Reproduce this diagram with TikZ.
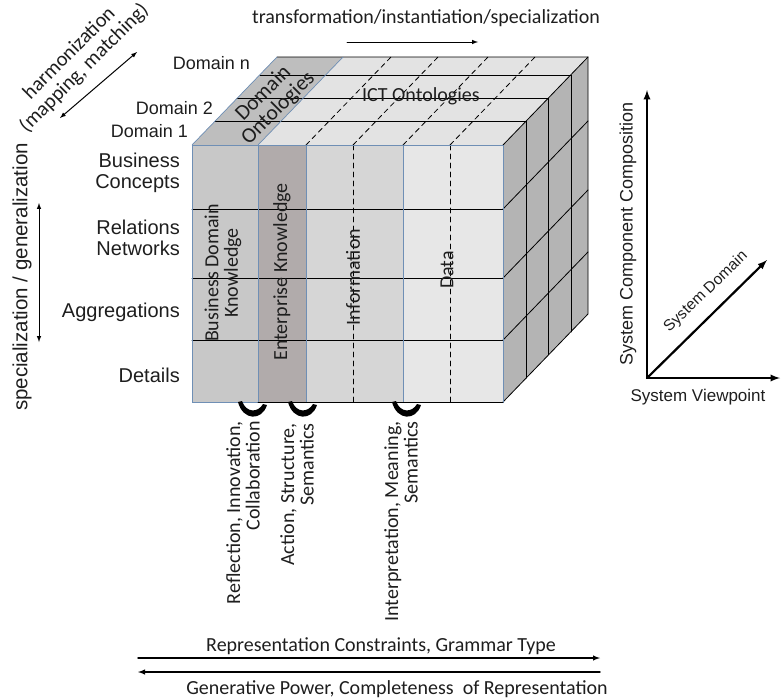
\documentclass[tikz,border=0pt]{standalone}
\usepackage{fontspec}
\setmainfont{Carlito}
\newfontfamily\arialfont{Liberation Sans}
\definecolor{topgray}{HTML}{E3E3E3}
\definecolor{domgray}{HTML}{BEBEBE}
\definecolor{sidegray}{HTML}{B4B4B4}
\definecolor{colA}{HTML}{C8C8C8}
\definecolor{colB}{HTML}{B1ABAB}
\definecolor{colC}{HTML}{D6D6D6}
\definecolor{colD}{HTML}{E7E7E7}
\definecolor{edgeblue}{HTML}{6F8FB5}
\definecolor{ink}{HTML}{1E1E1E}

\begin{document}
\begin{tikzpicture}[x=1pt,y=-1pt,line cap=round]
	\tikzstyle{lbl}=[font=\fontsize{20}{19.5}\selectfont,text=ink,inner sep=0pt];
	\tikzstyle{albl}=[font=\arialfont\fontsize{20}{21}\selectfont,text=ink,inner sep=0pt];
	\tikzstyle{edge}=[draw=edgeblue,line width=0.7pt];
	\tikzstyle{gridline}=[draw=black,line width=0.8pt];
	\tikzstyle{dashline}=[draw=black,line width=0.8pt,dashed,dash pattern=on 5pt off 4pt];
	\tikzstyle{arr}=[draw=black,line width=1pt,-latex];
	\tikzstyle{axis}=[draw=black,line width=2.2pt,-latex];
	\tikzstyle{hook}=[fill=black];
	\useasboundingbox (0,0) rectangle (781,699);

	% cube faces
	\fill[topgray] (192,145) -- (277,57) -- (588,57) -- (503,145) -- cycle;
	\fill[domgray] (192,145) -- (277,57) -- (343,57) -- (258,145) -- cycle;
	\fill[sidegray] (503,145) -- (588,57) -- (588,314) -- (503,402) -- cycle;
	\fill[colA] (192,145) rectangle (258,402);
	\fill[colB] (258,145) rectangle (306,402);
	\fill[colC] (306,145) rectangle (403,402);
	\fill[colD] (403,145) rectangle (503,402);

	% domain layers on top and right side
	\draw[gridline] (215,121) -- (526,121) -- (526,378);
	\draw[gridline] (237,98) -- (548,98) -- (548,355);
	\draw[gridline] (260,75) -- (571,75) -- (571,332);
	\draw[gridline] (277,57) -- (588,57) -- (588,314) -- (503,402);
	\draw[gridline] (503,145) -- (588,57);
	\draw[gridline] (503,209) -- (588,121);
	\draw[gridline] (503,278) -- (588,190);
	\draw[gridline] (503,340) -- (588,252);

	% top dashed strips
	\draw[dashline] (306,145) -- (391,57);
	\draw[dashline] (353,145) -- (438,57);
	\draw[dashline] (403,145) -- (488,57);
	\draw[dashline] (450,145) -- (535,57);
	\draw[edge] (192,145) -- (277,57);
	\draw[edge] (258,145) -- (343,57);

	% front rows and columns
	\draw[gridline] (192,209) -- (503,209);
	\draw[gridline] (192,278) -- (503,278);
	\draw[gridline] (192,340) -- (503,340);
	\draw[dashline] (353,145) -- (353,402);
	\draw[dashline] (450,145) -- (450,402);
	\draw[edge] (192,145) rectangle (503,402);
	\draw[edge] (258,145) -- (258,402);
	\draw[edge] (306,145) -- (306,402);
	\draw[edge] (403,145) -- (403,402);
	\draw[gridline] (258,402) -- (503,402);

	% cube labels
	\node[albl,anchor=east,font=\arialfont\fontsize{18}{21}\selectfont] (dn) at (250,63) {Domain n};
	\node[albl,anchor=east,font=\arialfont\fontsize{18}{21}\selectfont] (d2) at (213,108) {Domain 2};
	\node[albl,anchor=east,font=\arialfont\fontsize{18}{21}\selectfont] (d1) at (188,131) {Domain 1};
	\node[lbl,rotate=45,align=center,font=\fontsize{21.5}{21}\selectfont] (domont) at (271,101) {Domain\\Ontologies};
	\node[lbl] (ictont) at (421,96) {ICT Ontologies};
	\node[lbl,rotate=90,align=center] (bdk) at (223,273) {Business Domain\\Knowledge};
	\node[lbl,rotate=90] (ek) at (282,272) {Enterprise Knowledge};
	\node[lbl,rotate=90] (info) at (353,277) {Information};
	\node[lbl,rotate=90] (data) at (447,270) {Data};

	% level labels
	\node[albl,anchor=east,align=right] (bc) at (180,173) {Business\\Concepts};
	\node[albl,anchor=east,align=right] (rn) at (180,238) {Relations\\Networks};
	\node[albl,anchor=east] (agg) at (180,312) {Aggregations};
	\node[albl,anchor=east] (det) at (180,375) {Details};
	\node[albl,rotate=90,font=\arialfont\fontsize{20.5}{21}\selectfont] (spgen) at (22,277) {specialization / generalization};
	\coordinate (sg1) at (39,203);
	\coordinate (sg2) at (39,342);
	\draw[arr,latex-latex] (sg1) -- (sg2);

	% harmonization
	\node[lbl,rotate=45,align=center,font=\fontsize{20.5}{21}\selectfont] (harm) at (77,61) {harmonization\\(mapping, matching)};
	\coordinate (hm1) at (60,118);
	\coordinate (hm2) at (137,52);
	\draw[arr,latex-latex] (hm1) -- (hm2);

	% transformation
	\node[lbl] (trans) at (426,18) {transformation/instantiation/specialization};
	\coordinate (tr1) at (347,42);
	\coordinate (tr2) at (478,42);
	\draw[arr] (tr1) -- (tr2);

	% hooks below the cube
	\fill[hook] (238,402) .. controls (243,421) and (262,421) .. (267,405) -- (263,404) .. controls (258,413) and (246,413) .. (242,401) -- cycle;
	\fill[hook] (288,402) .. controls (293,421) and (312,421) .. (317,405) -- (313,404) .. controls (308,413) and (296,413) .. (292,401) -- cycle;
	\fill[hook] (392,402) .. controls (397,421) and (416,421) .. (421,405) -- (417,404) .. controls (412,413) and (400,413) .. (396,401) -- cycle;
	\node[lbl,rotate=90,anchor=east,align=right] (ric) at (243,421) {Reflection, Innovation,\\Collaboration};
	\node[lbl,rotate=90,anchor=east,align=right] (ass) at (297,423) {Action, Structure,\\Semantics};
	\node[lbl,rotate=90,anchor=east,align=right] (ims) at (401,421) {Interpretation, Meaning,\\Semantics};

	% bottom arrows
	\node[lbl] (rcg) at (381,646) {Representation Constraints, Grammar Type};
	\coordinate (rc1) at (138,658);
	\coordinate (rc2) at (600,658);
	\draw[arr,line width=1.4pt] (rc1) -- (rc2);
	\coordinate (gp1) at (600,672);
	\coordinate (gp2) at (138,672);
	\draw[arr,line width=1.4pt] (gp1) -- (gp2);
	\node[lbl] (gpc) at (397,689) {Generative Power, Completeness~ of Representation};

	% system axes
	\coordinate (orig) at (647,378);
	\coordinate (ax1) at (647,90);
	\coordinate (ax2) at (780,378);
	\coordinate (ax3) at (767,260);
	\draw[axis] (orig) -- (ax1);
	\draw[axis] (orig) -- (ax2);
	\draw[axis] (orig) -- (ax3);
	\node[albl,rotate=90,font=\arialfont\fontsize{18}{21}\selectfont] (scc) at (628,234) {System Component Composition};
	\node[albl,rotate=44,font=\arialfont\fontsize{15.5}{21}\selectfont] (sd) at (706,292) {System Domain};
	\node[albl,font=\arialfont\fontsize{17}{21}\selectfont] (sv) at (698,397) {System Viewpoint};
\end{tikzpicture}
\end{document}
